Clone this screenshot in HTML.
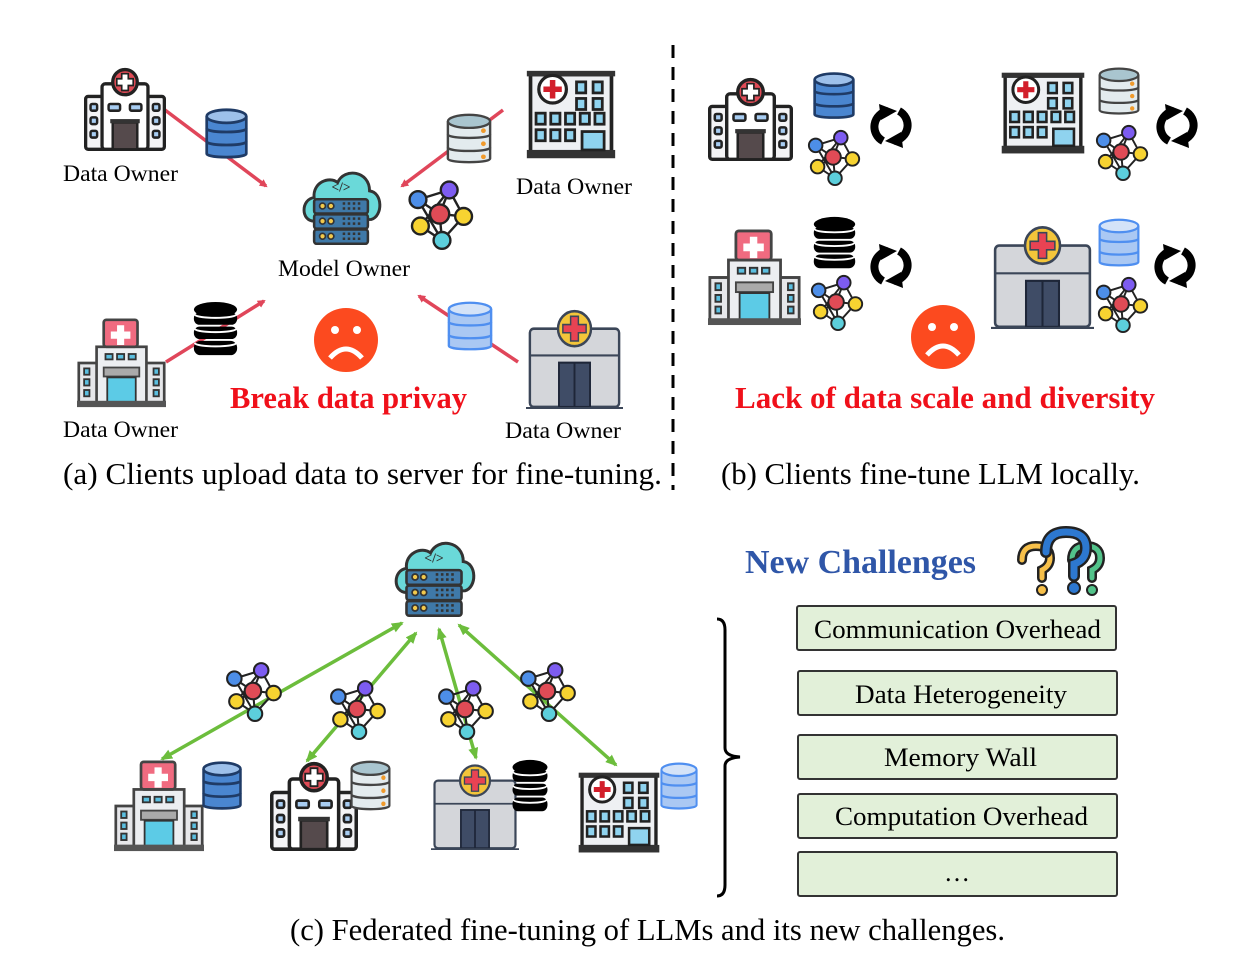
<!DOCTYPE html>
<html><head><meta charset="utf-8"><style>
html,body{margin:0;padding:0;background:#fff}
svg{display:block}
text{font-family:"Liberation Serif",serif}
</style></head><body>
<svg width="1247" height="972" viewBox="0 0 1247 972" xmlns="http://www.w3.org/2000/svg">
<defs>
<marker id="ar" markerWidth="8" markerHeight="8" refX="6" refY="4" orient="auto" markerUnits="userSpaceOnUse"><path d="M0,0 L8,4 L0,8 z" fill="#e0465a"/></marker>
<marker id="ag" markerWidth="12" markerHeight="10" refX="10" refY="5" orient="auto-start-reverse" markerUnits="userSpaceOnUse"><path d="M0,0 L12,5 L0,10 z" fill="#6cbd3c"/></marker>
<symbol id="hospA" viewBox="0 0 100 100" preserveAspectRatio="none">
<rect x="2" y="35" width="96" height="63" rx="3" fill="#f4f4f6" stroke="#222" stroke-width="4"/>
<rect x="22" y="20" width="56" height="78" rx="4" fill="#fff" stroke="#222" stroke-width="4"/>
<circle cx="50" cy="18" r="15" fill="#e04b56" stroke="#222" stroke-width="4"/>
<path d="M46 8h8v6h6v8h-6v6h-8v-6h-6v-8h6z" fill="#fff" stroke="#222" stroke-width="2"/>
<g fill="#a8cdf2" stroke="#222" stroke-width="3"><rect x="30" y="44" width="14" height="8" rx="2"/><rect x="56" y="44" width="14" height="8" rx="2"/><rect x="8" y="44" width="8" height="8" rx="2"/><rect x="8" y="60" width="8" height="8" rx="2"/><rect x="8" y="76" width="8" height="8" rx="2"/><rect x="84" y="44" width="8" height="8" rx="2"/><rect x="84" y="60" width="8" height="8" rx="2"/><rect x="84" y="76" width="8" height="8" rx="2"/></g>
<rect x="35" y="66" width="30" height="32" fill="#554a4c" stroke="#222" stroke-width="3"/><rect x="32" y="62" width="36" height="5" fill="#333"/>
</symbol>
<symbol id="hospB" viewBox="0 0 100 100" preserveAspectRatio="none">
<rect x="2" y="50" width="96" height="44" fill="#e6e7ea" stroke="#444" stroke-width="3"/>
<rect x="22" y="32" width="56" height="62" fill="#eceef1" stroke="#444" stroke-width="3"/>
<rect x="30" y="2" width="38" height="30" rx="3" fill="#f06b80" stroke="#444" stroke-width="3"/>
<path d="M45 8h8v7h7v8h-7v7h-8v-7h-7v-8h7z" fill="#fff"/>
<g fill="#5bbfe0" stroke="#333" stroke-width="2"><rect x="32" y="40" width="8" height="6"/><rect x="45" y="40" width="8" height="6"/><rect x="58" y="40" width="8" height="6"/><rect x="8" y="56" width="6" height="7"/><rect x="8" y="68" width="6" height="7"/><rect x="8" y="80" width="6" height="7"/><rect x="86" y="56" width="6" height="7"/><rect x="86" y="68" width="6" height="7"/><rect x="86" y="80" width="6" height="7"/></g>
<rect x="30" y="55" width="40" height="10" fill="#aaa" stroke="#444" stroke-width="2"/>
<rect x="34" y="66" width="32" height="28" fill="#5ccbe6" stroke="#333" stroke-width="2"/>
<rect x="0" y="92" width="100" height="7" fill="#555"/>
</symbol>
<symbol id="hospC" viewBox="0 0 100 100" preserveAspectRatio="none">
<rect x="4" y="22" width="92" height="76" rx="4" fill="#d4d6da" stroke="#3b4658" stroke-width="2.5"/>
<line x1="4" y1="48" x2="96" y2="48" stroke="#3b4658" stroke-width="2"/>
<rect x="34" y="55" width="32" height="43" fill="#3f4c66" stroke="#1e2638" stroke-width="2"/><line x1="50" y1="55" x2="50" y2="98" stroke="#1e2638" stroke-width="2"/>
<line x1="0" y1="99" x2="100" y2="99" stroke="#3b4658" stroke-width="2"/>
<circle cx="50" cy="22" r="17" fill="#f3c53a" stroke="#3b4658" stroke-width="2.5"/>
<path d="M46 10h8v8h8v8h-8v8h-8v-8h-8v-8h8z" fill="#e84353" stroke="#3b4658" stroke-width="1.5"/>
</symbol>
<symbol id="hospD" viewBox="0 0 100 100" preserveAspectRatio="none">
<rect x="6" y="6" width="88" height="84" fill="#eef0f3" stroke="#222" stroke-width="4"/>
<rect x="2" y="2" width="96" height="6" fill="#333"/>
<rect x="2" y="88" width="96" height="9" fill="#333"/>
<circle cx="30" cy="22" r="15" fill="#fff" stroke="#222" stroke-width="3.5"/>
<path d="M27 12h6v7h7v6h-7v7h-6v-7h-7v-6h7z" fill="#d21f2b"/>
<g fill="#8fd3ef" stroke="#222" stroke-width="3"><rect x="56" y="14" width="10" height="12"/><rect x="74" y="14" width="10" height="12"/><rect x="56" y="32" width="10" height="12"/><rect x="74" y="32" width="10" height="12"/><rect x="12" y="48" width="10" height="12"/><rect x="28" y="48" width="10" height="12"/><rect x="44" y="48" width="10" height="12"/><rect x="60" y="48" width="10" height="12"/><rect x="76" y="48" width="10" height="12"/><rect x="12" y="66" width="10" height="12"/><rect x="28" y="66" width="10" height="12"/><rect x="44" y="66" width="10" height="12"/><rect x="62" y="68" width="24" height="20"/></g>
</symbol>
<symbol id="dbBlue" viewBox="0 0 50 60" preserveAspectRatio="none"><g stroke="#1f3b66" stroke-width="3" fill="#4a86d0"><path d="M3 10v40c0 5 44 5 44 0V10"/><ellipse cx="25" cy="10" rx="22" ry="7" fill="#9dc0ea"/><path d="M3 23c0 5 44 5 44 0M3 37c0 5 44 5 44 0" fill="none"/></g></symbol>
<symbol id="dbGray" viewBox="0 0 50 60" preserveAspectRatio="none"><g stroke="#444" stroke-width="2.5" fill="#e3ebee"><path d="M3 10v40c0 5 44 5 44 0V10"/><ellipse cx="25" cy="10" rx="22" ry="7" fill="#a9c5cf"/><path d="M3 24c0 5 44 5 44 0M3 38c0 5 44 5 44 0" fill="none"/></g><g fill="#f09a2c"><circle cx="40" cy="20" r="2.5"/><circle cx="40" cy="34" r="2.5"/><circle cx="40" cy="48" r="2.5"/></g></symbol>
<symbol id="dbBlack" viewBox="0 0 50 60" preserveAspectRatio="none"><g fill="#000"><ellipse cx="25" cy="9" rx="23" ry="8"/><rect x="2" y="12" width="46" height="13" rx="6"/><rect x="2" y="27" width="46" height="13" rx="6"/><rect x="2" y="42" width="46" height="15" rx="7"/></g><path d="M3 14c0 5 44 5 44 0M3 29c0 5 44 5 44 0M3 44c0 5 44 5 44 0" stroke="#fff" stroke-width="2" fill="none"/></symbol>
<symbol id="dbLight" viewBox="0 0 50 60" preserveAspectRatio="none"><g stroke="#4f8ff0" stroke-width="2.5" fill="#aac8f3"><path d="M3 10v40c0 5 44 5 44 0V10"/><ellipse cx="25" cy="10" rx="22" ry="7" fill="#d4e3f8"/><path d="M3 24c0 5 44 5 44 0M3 38c0 5 44 5 44 0" fill="none"/></g></symbol>
<symbol id="net" viewBox="0 0 60 60"><g stroke="#222" stroke-width="2"><path d="M10 18L28 30L48 32M10 18L36 10L28 30L12 40L30 52L48 32L36 10M30 52L28 30M10 18L30 52M36 10L12 40" fill="none"/><circle cx="10" cy="18" r="7" fill="#4d8ee8"/><circle cx="36" cy="10" r="7" fill="#7d5cf0"/><circle cx="28" cy="30" r="8" fill="#e04b56"/><circle cx="48" cy="32" r="7" fill="#f7d331"/><circle cx="12" cy="40" r="7" fill="#f7d331"/><circle cx="30" cy="52" r="7" fill="#5ccfdc"/></g></symbol>
<symbol id="cloud" viewBox="0 0 100 100"><path d="M18 68C2 68 2 42 18 40C16 22 36 14 46 22C54 4 84 8 84 32C100 34 100 62 86 66Z" fill="#6ad9d9" stroke="#333" stroke-width="3.5"/><text x="50" y="33" font-size="16" font-family="Liberation Mono,monospace" font-weight="bold" text-anchor="middle" fill="#333">&lt;/&gt;</text><g fill="#3f79a8" stroke="#333" stroke-width="3"><rect x="18" y="42" width="64" height="17" rx="3"/><rect x="18" y="60" width="64" height="17" rx="3"/><rect x="18" y="78" width="64" height="17" rx="3"/></g><g fill="#f2c94c" stroke="#333" stroke-width="2"><circle cx="28" cy="50" r="3.5"/><circle cx="38" cy="50" r="3.5"/><circle cx="28" cy="68" r="3.5"/><circle cx="38" cy="68" r="3.5"/><circle cx="28" cy="86" r="3.5"/><circle cx="38" cy="86" r="3.5"/></g><g stroke="#333" stroke-width="3" stroke-dasharray="3 3"><path d="M52 47h24M52 53h24M52 65h24M52 71h24M52 83h24M52 89h24"/></g></symbol>
<symbol id="refresh" viewBox="0 0 44 44"><g fill="none" stroke="#000" stroke-width="8"><path d="M19 7A16 16 0 0 0 14 37"/><path d="M25 37A16 16 0 0 0 30 7"/></g><path d="M10 0L28 7L12 16Z M34 44L16 37L32 28Z" fill="#000"/></symbol>
<symbol id="sad" viewBox="0 0 64 64"><circle cx="32" cy="32" r="32" fill="#fc4a1f"/><circle cx="21" cy="22" r="4" fill="#fff"/><circle cx="43" cy="22" r="4" fill="#fff"/><path d="M16 50Q32 32 48 50" stroke="#fff" stroke-width="5" fill="none"/></symbol>
</defs>

<!-- (a) -->
<g stroke="#e0465a" stroke-width="3.5">
<line x1="165" y1="110" x2="266" y2="186" marker-end="url(#ar)"/>
<line x1="503" y1="110" x2="402" y2="186" marker-end="url(#ar)"/>
<line x1="166" y1="362" x2="264" y2="301" marker-end="url(#ar)"/>
<line x1="518" y1="362" x2="419" y2="296" marker-end="url(#ar)"/>
</g>
<use href="#hospA" x="84" y="67" width="82" height="84"/>
<use href="#dbBlue" x="204" y="107" width="45" height="56"/>
<use href="#cloud" x="299" y="164" width="84" height="84"/>
<use href="#net" x="406" y="178" width="72" height="72"/>
<use href="#dbGray" x="445" y="112" width="48" height="56"/>
<use href="#hospD" x="525" y="69" width="92" height="92"/>
<use href="#hospB" x="77" y="318" width="89" height="90"/>
<use href="#dbBlack" x="192" y="301" width="47" height="57"/>
<use href="#sad" x="314" y="308" width="64" height="64"/>
<use href="#dbLight" x="446" y="300" width="48" height="55"/>
<use href="#hospC" x="526" y="306" width="97" height="103"/>
<g lengthAdjust="spacingAndGlyphs">
<text x="63" y="181" font-size="23" textLength="115" lengthAdjust="spacingAndGlyphs">Data Owner</text>
<text x="516" y="194" font-size="23" textLength="116" lengthAdjust="spacingAndGlyphs">Data Owner</text>
<text x="278" y="276" font-size="23" textLength="132" lengthAdjust="spacingAndGlyphs">Model Owner</text>
<text x="63" y="437" font-size="23" textLength="115" lengthAdjust="spacingAndGlyphs">Data Owner</text>
<text x="505" y="438" font-size="23" textLength="116" lengthAdjust="spacingAndGlyphs">Data Owner</text>
<text x="230" y="408" font-size="31" font-weight="bold" fill="#f0101a" textLength="237" lengthAdjust="spacingAndGlyphs">Break data privay</text>
<text x="63" y="484" font-size="31" textLength="599" lengthAdjust="spacingAndGlyphs">(a)  Clients upload data to server for fine-tuning.</text>
</g>

<line x1="673" y1="45" x2="673" y2="490" stroke="#000" stroke-width="3" stroke-dasharray="13 9"/>

<!-- (b) -->
<use href="#hospA" x="708" y="77" width="85" height="84"/>
<use href="#dbBlue" x="812" y="71" width="44" height="52"/>
<use href="#net" x="806" y="128" width="58" height="58"/>
<use href="#refresh" x="869" y="104" width="44" height="44"/>
<use href="#hospD" x="1000" y="71" width="86" height="85"/>
<use href="#dbGray" x="1097" y="66" width="44" height="53"/>
<use href="#net" x="1094" y="123" width="58" height="58"/>
<use href="#refresh" x="1155" y="104" width="44" height="44"/>
<use href="#hospB" x="708" y="229" width="93" height="97"/>
<use href="#dbBlack" x="812" y="216" width="45" height="55"/>
<use href="#net" x="809" y="273" width="58" height="58"/>
<use href="#refresh" x="869" y="244" width="44" height="44"/>
<use href="#hospC" x="991" y="222" width="103" height="107"/>
<use href="#dbLight" x="1097" y="217" width="44" height="54"/>
<use href="#net" x="1094" y="275" width="58" height="58"/>
<use href="#refresh" x="1153" y="244" width="44" height="44"/>
<use href="#sad" x="911" y="305" width="64" height="64"/>
<text x="735" y="408" font-size="31" font-weight="bold" fill="#f0101a" textLength="420" lengthAdjust="spacingAndGlyphs">Lack of  data scale and diversity</text>
<text x="721" y="484" font-size="31" textLength="419" lengthAdjust="spacingAndGlyphs">(b) Clients fine-tune LLM locally.</text>

<!-- (c) -->
<use href="#cloud" x="391" y="534" width="86" height="86"/>
<g stroke="#6cbd3c" stroke-width="3.5">
<line x1="162" y1="759" x2="402" y2="623" marker-start="url(#ag)" marker-end="url(#ag)"/>
<line x1="307" y1="761" x2="416" y2="633" marker-start="url(#ag)" marker-end="url(#ag)"/>
<line x1="476" y1="758" x2="439" y2="629" marker-start="url(#ag)" marker-end="url(#ag)"/>
<line x1="616" y1="765" x2="459" y2="625" marker-start="url(#ag)" marker-end="url(#ag)"/>
</g>
<use href="#net" x="224" y="660" width="62" height="62"/>
<use href="#net" x="328" y="678" width="62" height="62"/>
<use href="#net" x="436" y="678" width="62" height="62"/>
<use href="#net" x="518" y="660" width="62" height="62"/>
<use href="#hospB" x="114" y="760" width="90" height="92"/>
<use href="#dbBlue" x="201" y="760" width="42" height="54"/>
<use href="#hospA" x="270" y="761" width="88" height="90"/>
<use href="#dbGray" x="349" y="759" width="43" height="56"/>
<use href="#hospC" x="431" y="761" width="88" height="89"/>
<use href="#dbBlack" x="511" y="759" width="38" height="55"/>
<use href="#hospD" x="577" y="771" width="84" height="84"/>
<use href="#dbLight" x="659" y="761" width="40" height="53"/>

<path d="M717 619Q725 619 725 630V748Q725 756 740 757Q725 758 725 766V885Q725 896 717 896" fill="none" stroke="#000" stroke-width="3"/>

<text x="745" y="573" font-size="34" font-weight="bold" fill="#2f56a8" textLength="231" lengthAdjust="spacingAndGlyphs">New Challenges</text>
<g fill="none" stroke-linecap="round">
<path d="M1022 560q0-14 14-14t14 12q0 8-8 12v8" stroke="#222" stroke-width="10"/><path d="M1022 560q0-14 14-14t14 12q0 8-8 12v8" stroke="#f7c04a" stroke-width="5"/>
<path d="M1072 560q0-14 14-14t14 12q0 8-8 12v8" stroke="#222" stroke-width="10"/><path d="M1072 560q0-14 14-14t14 12q0 8-8 12v8" stroke="#52c38a" stroke-width="5"/>
<path d="M1046 552q0-20 20-20t20 16q0 12-12 16v12" stroke="#222" stroke-width="12"/><path d="M1046 552q0-20 20-20t20 16q0 12-12 16v12" stroke="#2d78d0" stroke-width="7"/>
</g>
<circle cx="1042" cy="590" r="5" fill="#f7c04a" stroke="#222" stroke-width="2"/><circle cx="1074" cy="588" r="6" fill="#2d78d0" stroke="#222" stroke-width="2"/><circle cx="1092" cy="590" r="5" fill="#52c38a" stroke="#222" stroke-width="2"/>

<g fill="#e2f0d9" stroke="#333" stroke-width="2">
<rect x="797" y="606" width="319" height="44" rx="2"/>
<rect x="798" y="671" width="319" height="44" rx="2"/>
<rect x="798" y="735" width="319" height="44" rx="2"/>
<rect x="798" y="794" width="319" height="44" rx="2"/>
<rect x="798" y="852" width="319" height="44" rx="2"/>
</g>
<text x="814" y="638" font-size="26" textLength="287" lengthAdjust="spacingAndGlyphs">Communication Overhead</text>
<text x="855" y="703" font-size="26" textLength="212" lengthAdjust="spacingAndGlyphs">Data Heterogeneity</text>
<text x="884" y="766" font-size="26" textLength="153" lengthAdjust="spacingAndGlyphs">Memory Wall</text>
<text x="835" y="825" font-size="26" textLength="253" lengthAdjust="spacingAndGlyphs">Computation Overhead</text>
<text x="957" y="881" font-size="26" text-anchor="middle">…</text>
<text x="290" y="940" font-size="31" textLength="715" lengthAdjust="spacingAndGlyphs">(c) Federated fine-tuning of LLMs and its new challenges.</text>
</svg>
</body></html>
